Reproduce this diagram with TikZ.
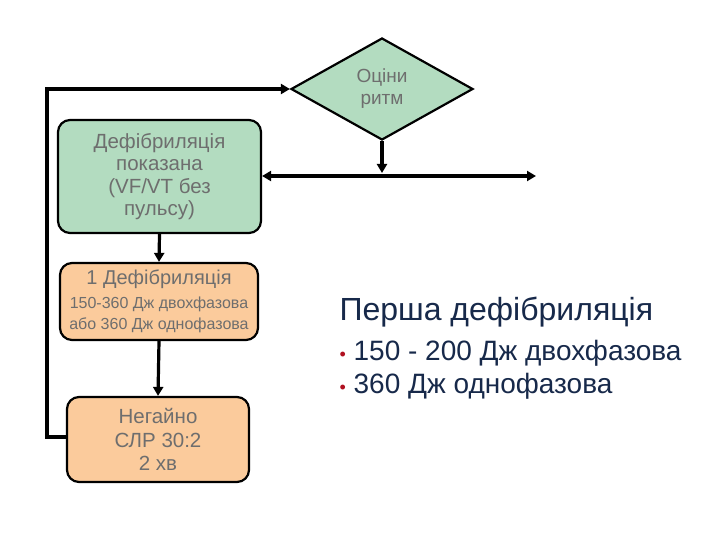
\documentclass[tikz,border=0pt]{standalone}
\usepackage{fontspec}
\setmainfont{Liberation Sans}
\usetikzlibrary{shapes.geometric,arrows.meta,calc}
\definecolor{gfill}{HTML}{B3DCC0}
\definecolor{ofill}{HTML}{FBCB9C}
\definecolor{tgray}{HTML}{6E6E6E}
\definecolor{navy}{HTML}{17294A}
\definecolor{bred}{HTML}{B01020}
\tikzset{
 box/.style={draw=black,line width=2.2pt,rounded corners=12pt,align=center,text=tgray,inner sep=0pt},
 conn/.style={line width=3.2pt,-{Triangle[length=9pt,width=10pt]}},
}
\begin{document}
\begin{tikzpicture}[x=1pt,y=-1pt]
\useasboundingbox (0,0) rectangle (720,540);
\node[diamond,draw=black,line width=2.2pt,fill=gfill,minimum width=182pt,minimum height=102pt,inner sep=0pt,aspect=1.78,align=center,text=tgray,font=\fontsize{19}{22}\selectfont] (d) at (382,89) {Оціни\\ритм};
\node[box,fill=gfill,minimum width=203pt,minimum height=113pt,font=\fontsize{20.5}{22.5}\selectfont] (g) at (159.5,176.5) {Дефібриляція\\показана\\(VF/VT без\\пульсу)};
\node[box,fill=ofill,minimum width=198pt,minimum height=77pt,font=\fontsize{16}{21}\selectfont] (o1) at (159,301.5) {{\fontsize{20}{22}\selectfont 1 Дефібриляція}\\[3pt]150-360 Дж двохфазова\\або 360 Дж однофазова};
\node[box,fill=ofill,minimum width=182pt,minimum height=85pt,font=\fontsize{20.5}{23.5}\selectfont] (o2) at (158,439.5) {Негайно\\СЛР 30:2\\2 хв};
\coordinate (r) at (536,176);
\coordinate (m) at (382,176);
\draw[conn] (d.south) -- ($(m)+(0,-3)$);
\draw[line width=3.2pt,{Triangle[length=9pt,width=10pt]}-{Triangle[length=9pt,width=10pt]}] (g.east |- m) -- (r);
\draw[conn] (g.south) -- (o1.north);
\draw[conn] (o1.south) -- (o2.north);
\draw[conn] (o2.west |- 0,437) -- (47,437) -- (47,89) -- (d.west);
\node[anchor=west,text=navy,font=\fontsize{32}{36}\selectfont] (t) at (336,312) {Перша дефібриляція};
\node[anchor=west,text=navy,font=\fontsize{28}{32}\selectfont] (b1) at (336,353) {{\color{bred}\fontsize{18}{18}\selectfont•} 150 - 200 Дж двохфазова};
\node[anchor=west,text=navy,font=\fontsize{28}{32}\selectfont] (b2) at (336,386) {{\color{bred}\fontsize{18}{18}\selectfont•} 360 Дж однофазова};
\end{tikzpicture}
\end{document}
